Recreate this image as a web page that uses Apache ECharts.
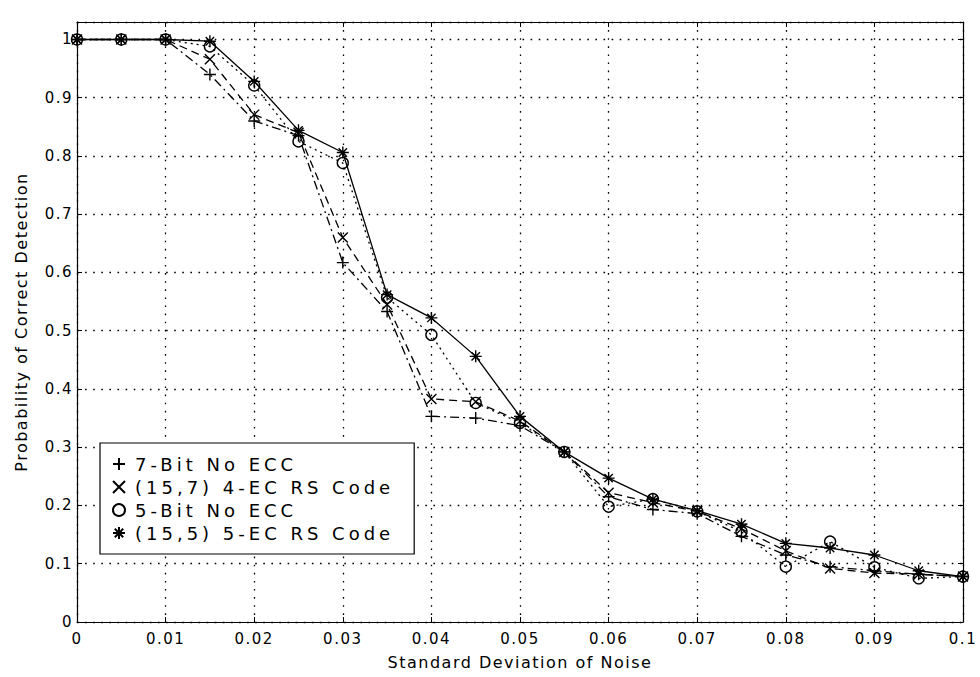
<!DOCTYPE html>
<html>
<head>
<meta charset="utf-8">
<script src="https://cdn.jsdelivr.net/npm/echarts@6/dist/echarts.min.js"></script>
<style>
  html, body { margin: 0; padding: 0; background: #fff; }
  #chart { width: 980px; height: 677px; }
  #chart text { letter-spacing: 1.5px; }
  #chart text[style*="18px"] { letter-spacing: 4px; }
</style>
</head>
<body>
<div id="chart"></div>
<script>
// ---- data ----
const noiseStd = [0, 0.005, 0.01, 0.015, 0.02, 0.025, 0.03, 0.035, 0.04, 0.045, 0.05,
                  0.055, 0.06, 0.065, 0.07, 0.075, 0.08, 0.085, 0.09, 0.095, 0.1];
const seriesNames = ['7-Bit No ECC', '(15,7) 4-EC RS Code', '5-Bit No ECC', '(15,5) 5-EC RS Code'];
const bit7NoEcc   = [1, 1, 1, 0.940, 0.860, 0.835, 0.617, 0.533, 0.353, 0.350, 0.337,
                     0.292, 0.215, 0.193, 0.186, 0.147, 0.115, 0.095, 0.088, 0.082, 0.078];
const rs157       = [1, 1, 1, 0.966, 0.871, 0.840, 0.660, 0.545, 0.383, 0.378, 0.345,
                     0.292, 0.222, 0.205, 0.190, 0.160, 0.122, 0.092, 0.084, 0.082, 0.078];
const bit5NoEcc   = [1, 1, 1, 0.988, 0.921, 0.825, 0.788, 0.557, 0.493, 0.376, 0.342,
                     0.292, 0.198, 0.211, 0.190, 0.155, 0.095, 0.138, 0.094, 0.075, 0.078];
const rs155       = [1, 1, 1, 0.997, 0.928, 0.844, 0.806, 0.562, 0.522, 0.456, 0.353,
                     0.292, 0.247, 0.211, 0.191, 0.168, 0.135, 0.127, 0.115, 0.088, 0.078];
const xTicks = [0, 0.01, 0.02, 0.03, 0.04, 0.05, 0.06, 0.07, 0.08, 0.09, 0.1];
const yTicks = [0, 0.1, 0.2, 0.3, 0.4, 0.5, 0.6, 0.7, 0.8, 0.9, 1];

// ---- styles ----
const SYM_PLUS  = 'path://M5,0L5,10M0,5L10,5';
const SYM_CROSS = 'path://M0,0L10,10M10,0L0,10';
const SYM_STAR  = 'path://M5,0L5,10M0,5L10,5M1.5,1.5L8.5,8.5M8.5,1.5L1.5,8.5';
const FONT = 'DejaVu Sans';

function pairs(ys) { return noiseStd.map((x, i) => [x, ys[i]]); }

function mkSeries(name, ys, symbol, size, dash) {
  return {
    name: name, type: 'line', data: pairs(ys),
    symbol: symbol, symbolSize: size,
    showAllSymbol: true,
    lineStyle: { color: '#000', width: 1.3, type: dash },
    itemStyle: { color: 'rgba(0,0,0,0)', borderColor: '#000', borderWidth: 1.4 },
    emphasis: { disabled: true },
    animation: false, z: 3
  };
}

const chart = echarts.init(document.getElementById('chart'), null, { renderer: 'svg' });
const gridLine = { show: true, lineStyle: { color: '#000', width: 1.3, type: [1.6, 6.5] } };
const option = {
  backgroundColor: '#fff',
  animation: false,
  grid: { left: 77, right: 17, top: 22, bottom: 55 },
  legend: {
    orient: 'vertical', left: 100, top: 443,
    backgroundColor: '#fff', borderColor: '#000', borderWidth: 1.2,
    padding: [12, 96, 12, 12],
    itemWidth: 22, itemHeight: 12, itemGap: 5,
    textStyle: { fontFamily: FONT, fontSize: 18, lineHeight: 18, color: '#000' },
    data: [
      { name: seriesNames[0], icon: SYM_PLUS },
      { name: seriesNames[1], icon: SYM_CROSS },
      { name: seriesNames[2], icon: 'circle' },
      { name: seriesNames[3], icon: SYM_STAR }
    ],
    selectedMode: false
  },
  xAxis: [{
    type: 'value', min: 0, max: 0.1, interval: 0.01,
    name: 'Standard Deviation of Noise', nameLocation: 'middle', nameGap: 32,
    nameTextStyle: { fontFamily: FONT, fontSize: 16, color: '#000' },
    axisLine: { show: true, lineStyle: { color: '#000', width: 1.2 } },
    axisTick: { show: true, inside: true, length: 5, lineStyle: { color: '#000' } },
    axisLabel: { fontFamily: FONT, fontSize: 15, color: '#000', margin: 9,
      formatter: v => xTicks.some(t => Math.abs(t - v) < 1e-9) ? String(+v.toFixed(2)) : '' },
    splitLine: gridLine
  }, {
    type: 'value', position: 'top', min: 0, max: 0.1, interval: 0.01,
    axisLine: { show: true, onZero: false, lineStyle: { color: '#000', width: 1.2 } },
    axisTick: { show: true, inside: true, length: 5, lineStyle: { color: '#000' } },
    axisLabel: { show: false }, splitLine: { show: false }
  }],
  yAxis: [{
    type: 'value', min: 0, max: 1.03, interval: 0.1,
    name: 'Probability of Correct Detection', nameLocation: 'middle', nameGap: 48,
    nameTextStyle: { fontFamily: FONT, fontSize: 16, color: '#000' },
    axisLine: { show: true, lineStyle: { color: '#000', width: 1.2 } },
    axisTick: { show: true, inside: true, length: 5, lineStyle: { color: '#000' } },
    axisLabel: { fontFamily: FONT, fontSize: 15, color: '#000', margin: 4, showMaxLabel: false,
      formatter: v => yTicks.some(t => Math.abs(t - v) < 1e-9) ? String(+v.toFixed(1)) : '' },
    splitLine: gridLine
  }, {
    type: 'value', position: 'right', min: 0, max: 1.03, interval: 0.1,
    axisLine: { show: true, onZero: false, lineStyle: { color: '#000', width: 1.2 } },
    axisTick: { show: true, inside: true, length: 5, lineStyle: { color: '#000' } },
    axisLabel: { show: false }, splitLine: { show: false }
  }],
  series: [
    mkSeries(seriesNames[0], bit7NoEcc, SYM_PLUS, 12, [9, 4, 2, 4]),
    mkSeries(seriesNames[1], rs157, SYM_CROSS, 10, [8, 5]),
    mkSeries(seriesNames[2], bit5NoEcc, 'circle', 11, [2, 4]),
    mkSeries(seriesNames[3], rs155, SYM_STAR, 12, 'solid')
  ]
};
chart.setOption(option);
</script>
</body>
</html>
